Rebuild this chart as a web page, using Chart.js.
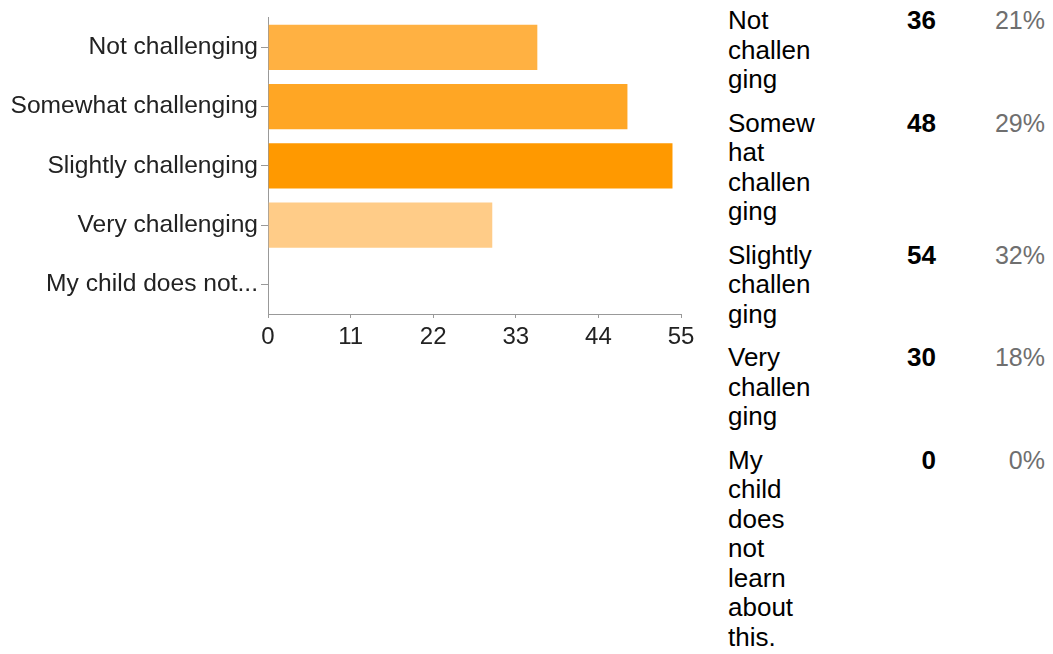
<!DOCTYPE html>
<html>
<head>
<meta charset="utf-8">
<script src="https://cdn.jsdelivr.net/npm/chart.js@4/dist/chart.umd.min.js"></script>
<style>
  body { margin: 0; background: #fff; width: 1053px; height: 654px; overflow: hidden; position: relative; }
  #chartBox { position: absolute; left: 0; top: 0; width: 700px; height: 360px; }
  #tabel { position: absolute; left: 728px; top: 6px; font-family: "Liberation Sans", Arial, sans-serif; font-size: 26px; line-height: 29.5px; color: #000; }
  .baris { display: grid; grid-template-columns: 90px 118px 109px; margin-bottom: 14px; }
  .label { overflow-wrap: anywhere; }
  .jumlah { font-weight: bold; text-align: right; }
  .persen { color: #6f6f6f; text-align: right; font-size: 25px; }
</style>
</head>
<body>
<div id="chartBox"><canvas id="chartTantangan"></canvas></div>
<div id="tabel"></div>

<script>
// Data dari gambar
const kategori = ["Not challenging", "Somewhat challenging", "Slightly challenging", "Very challenging", "My child does not learn about this."];
const labelSumbu = ["Not challenging", "Somewhat challenging", "Slightly challenging", "Very challenging", "My child does not..."];
const jumlah = [36, 48, 54, 30, 0];
const persen = ["21%", "29%", "32%", "18%", "0%"];
const warnaBar = ["#ffb142", "#ffa624", "#ff9900", "#ffcc88", "#ffe0b0"];
const tickSumbuX = [0, 11, 22, 33, 44, 55];

// Tabel ringkasan di kanan
const tabel = document.getElementById("tabel");
kategori.forEach((nama, i) => {
  const baris = document.createElement("div");
  baris.className = "baris";
  baris.innerHTML =
    '<div class="label">' + nama + '</div>' +
    '<div class="jumlah">' + jumlah[i] + '</div>' +
    '<div class="persen">' + persen[i] + '</div>';
  tabel.appendChild(baris);
});

// Chart batang horizontal
const fontLabel = { family: "'Liberation Sans', Arial, sans-serif", size: 24.6 };
const fontTick = { family: "'Liberation Sans', Arial, sans-serif", size: 24 };
const ctx = document.getElementById("chartTantangan").getContext("2d");
new Chart(ctx, {
  type: "bar",
  data: {
    labels: labelSumbu,
    datasets: [
      {
        data: jumlah,
        backgroundColor: warnaBar,
        borderColor: "rgba(255,255,255,0.35)",
        borderWidth: 1,
        barPercentage: 1,
        categoryPercentage: 0.8,
      },
    ],
  },
  options: {
    indexAxis: "y",
    responsive: true,
    maintainAspectRatio: false,
    animation: false,
    layout: { padding: { top: 12, right: 19, left: 0, bottom: 0 } },
    plugins: { legend: { display: false }, tooltip: { enabled: false } },
    scales: {
      x: {
        min: 0,
        max: 55,
        afterBuildTicks: (axis) => {
          axis.ticks = tickSumbuX.map((v) => ({ value: v }));
        },
        afterFit: (axis) => {
          axis.height = 46;
        },
        border: { color: "#999", width: 1 },
        grid: { drawOnChartArea: false, tickLength: 4, color: "#999" },
        ticks: { color: "#222", font: fontTick, padding: 5, maxRotation: 0 },
      },
      y: {
        afterFit: (axis) => {
          axis.width = 268;
        },
        border: { color: "#999", width: 1 },
        grid: { drawOnChartArea: false, offset: false, tickLength: 7, color: "#999" },
        ticks: { color: "#222", font: fontLabel, padding: 3 },
      },
    },
  },
});
</script>
</body>
</html>
